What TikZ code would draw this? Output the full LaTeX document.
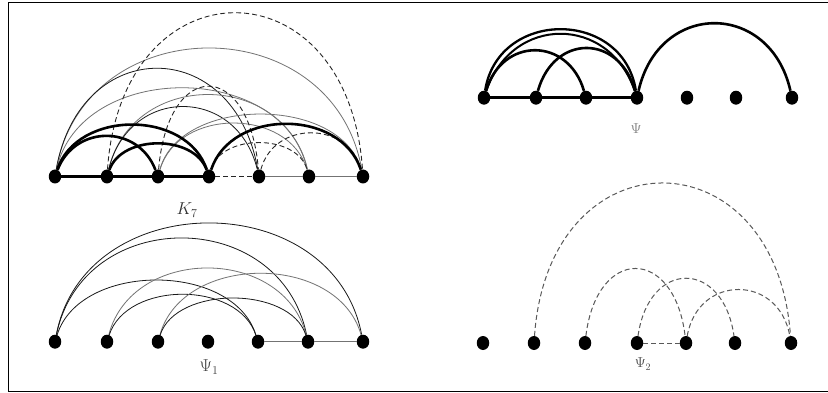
\documentclass[tikz,border=0pt]{standalone}
\usetikzlibrary{shapes.geometric}
% #2 start, #3 end, #4 control height, #5 inward slant
\newcommand{\myarc}[5][]{\draw[#1] (#2) .. controls +(#5,#4) and +(-#5,#4) .. (#3);}
\tikzset{
  dot/.style={ellipse,fill=black,draw=none,inner sep=0pt,minimum width=12.5pt,minimum height=14pt},
  thk/.style={line width=2.6pt,draw=black},
  thn/.style={line width=0.8pt,draw=black!55},
  thnb/.style={line width=0.8pt,draw=black!90},
  dsh/.style={line width=0.9pt,draw=black!85,dash pattern=on 5pt off 3pt},
  dshg/.style={line width=1pt,draw=black!65,dash pattern=on 5pt off 3pt},
  lbl/.style={inner sep=0pt}
}
\begin{document}
\begin{tikzpicture}[x=1pt,y=1pt]
\useasboundingbox (0,0) rectangle (828,-393);
\fill[white] (0,0) rectangle (828,-393);
% frame
\draw[line width=1pt] (828,-2.7) -- (8,-2.7) -- (8,-391) -- (828,-391);

% nodes
\foreach \x [count=\i] in {55,107,158,209,259,309,363}
  \node[dot] (k\i) at (\x,-176.5) {};
\foreach \x [count=\i] in {484,536,586,637,687,736,792}
  \node[dot] (p\i) at (\x,-97.7) {};
\foreach \x [count=\i] in {55,107,158,208,258,308,363}
  \node[dot] (a\i) at (\x,-341.7) {};
\foreach \x [count=\i] in {483,534,585,637,686,735,791}
  \node[dot] (b\i) at (\x,-343) {};

% ---- K7 ----
\draw[thk] (k1) -- (k2) -- (k3) -- (k4);
\draw[dsh] (k4) -- (k5);
\draw[thn] (k5) -- (k6) -- (k7);
\myarc[thn]{k1}{k7}{169}{30}
\myarc[thnb]{k1}{k5}{142}{25}
\myarc[thn]{k1}{k6}{116}{25}
\myarc[thn]{k2}{k6}{107}{25}
\myarc[thnb]{k2}{k5}{91}{22}
\myarc[thn]{k3}{k7}{81}{22}
\myarc[thn]{k3}{k6}{69}{20}
\myarc[dsh]{k2}{k7}{216}{15}
\myarc[dsh]{k3}{k5}{118}{10}
\myarc[dsh]{k4}{k6}{43}{12}
\myarc[dsh]{k5}{k7}{56}{15}
\myarc[thk]{k1}{k3}{52}{20}
\myarc[thk]{k1}{k4}{67}{22}
\myarc[thk]{k2}{k4}{42}{15}
\myarc[thk]{k4}{k7}{68}{22}

% ---- Psi ----
\draw[thk] (p1) -- (p2) -- (p3) -- (p4);
\myarc[thk]{p1}{p3}{61}{18}
\myarc[thk]{p2}{p4}{64}{18}
\myarc[line width=2.3pt]{p1}{p4}{89}{14}
\myarc[line width=2pt]{p1}{p4}{83}{28}
\myarc[thk]{p4}{p7}{97}{22}

% ---- Psi1 ----
\draw[thn] (a5) -- (a6) -- (a7);
\myarc[thnb]{a1}{a7}{156}{30}
\myarc[thnb]{a1}{a6}{136}{28}
\myarc[thnb]{a1}{a5}{80}{25}
\myarc[thn]{a2}{a6}{96}{25}
\myarc[thnb]{a2}{a5}{61}{20}
\myarc[thn]{a3}{a7}{89}{25}
\myarc[thnb]{a3}{a6}{56}{18}

% ---- Psi2 ----
\draw[dshg] (b4) -- (b5);
\myarc[dshg]{b2}{b7}{211}{15}
\myarc[dshg]{b3}{b5}{97}{12}
\myarc[dshg]{b4}{b6}{84}{12}
\myarc[dshg]{b5}{b7}{69}{12}

% labels
\node[lbl,text=black!80] (lk) at (187,-210) {\LARGE $K_7$};
\node[lbl,text=black!50] (lp) at (636,-129) {\Large $\Psi$};
\node[lbl,text=black!75] (la) at (209,-367) {\LARGE $\Psi_1$};
\node[lbl,text=black!70] (lb) at (643,-364) {\Large $\Psi_2$};
\end{tikzpicture}
\end{document}
